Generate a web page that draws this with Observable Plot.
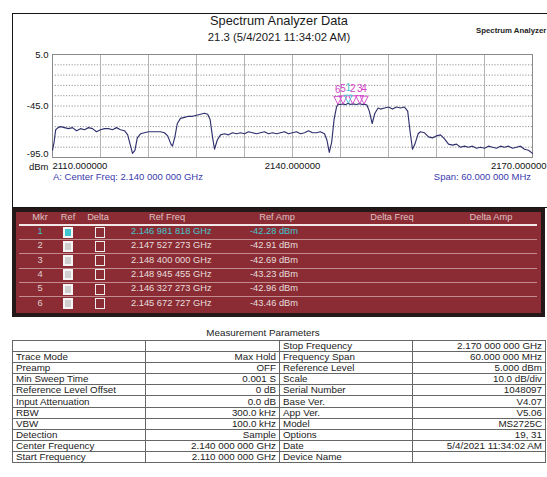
<!DOCTYPE html>
<html>
<head>
<meta charset="utf-8">
<script src="https://cdn.jsdelivr.net/npm/d3@7"></script>
<script src="https://cdn.jsdelivr.net/npm/@observablehq/plot@0.6"></script>
<style>
  body { margin: 0; background: #fff; font-family: "Liberation Sans", Arial, sans-serif; }
  #page { position: relative; width: 547px; height: 477px; overflow: hidden; background: #fff; }
  .t { position: absolute; white-space: nowrap; line-height: 1; }
  #panel { position: absolute; left: 12px; top: 13px; width: 560px; height: 195px; border: 1.5px solid #151515; box-sizing: border-box; }
  #chart { position: absolute; left: 0; top: 0; }
  #mkbox { position: absolute; left: 12px; top: 208px; width: 533px; height: 109px; background: #8b2c34; border: 4px solid #241818; box-sizing: border-box; }
  #params { position: absolute; left: 12px; top: 340px; border-collapse: collapse; font-size: 9.8px; color: #222; table-layout: fixed; }
  #params td { height: 10.1px; padding: 0 3px; border: 1px solid #666; line-height: 10px; white-space: nowrap; overflow: hidden; }
  #params td.v { text-align: right; }
</style>
</head>
<body>
<div id="page">
  <div id="panel"></div>
</div>
<script>
// Swept trace: frequency (MHz) and level (dBm)
const freqMHz = [
  2110.0, 2110.2, 2110.4, 2110.7, 2111.0, 2111.5, 2112.0, 2112.5, 2113.0, 2113.5,
  2114.0, 2114.5, 2115.0, 2115.5, 2116.0, 2116.5, 2117.0, 2117.5, 2118.0, 2118.5,
  2119.0, 2119.4, 2119.7, 2120.0, 2120.3, 2120.6, 2121.0, 2121.5, 2122.0, 2122.5,
  2123.0, 2123.5, 2124.0, 2124.4, 2124.8, 2125.0, 2125.3, 2125.6, 2126.0, 2126.5,
  2127.0, 2127.5, 2128.0, 2128.5, 2129.0, 2129.4, 2129.7, 2130.0, 2130.25, 2130.6,
  2131.0, 2131.5, 2132.0, 2132.5, 2133.0, 2133.5, 2134.0, 2134.5, 2135.0, 2135.5,
  2136.0, 2136.5, 2137.0, 2137.5, 2138.0, 2138.5, 2139.0, 2139.5, 2140.0, 2140.5,
  2141.0, 2141.5, 2142.0, 2142.5, 2143.0, 2143.5, 2144.0, 2144.3, 2144.6, 2144.9,
  2145.2, 2145.5, 2145.67, 2146.0, 2146.33, 2146.6, 2146.98, 2147.2, 2147.53, 2148.0,
  2148.4, 2148.7, 2148.95, 2149.3, 2149.6, 2149.96, 2150.3, 2150.7, 2151.0, 2151.5,
  2152.0, 2152.5, 2153.0, 2153.5, 2154.0, 2154.4, 2154.7, 2155.0, 2155.3, 2155.7,
  2156.0, 2156.5, 2157.0, 2157.5, 2158.0, 2158.5, 2159.0, 2159.5, 2160.0, 2160.5,
  2161.0, 2161.5, 2162.0, 2162.5, 2163.0, 2163.5, 2164.0, 2164.5, 2165.0, 2165.5,
  2166.0, 2166.5, 2167.0, 2167.5, 2168.0, 2168.5, 2169.0, 2169.5, 2170.0
];
const levelDbm = [
  -88, -80, -68, -66, -65, -66, -67, -66, -69, -67,
  -68, -66, -67, -70, -68, -67, -67, -68, -66, -68,
  -69, -73, -82, -91, -88, -76, -72, -71, -70, -70,
  -70, -70, -71, -74, -82, -84, -75, -62, -57, -56,
  -55, -55, -54, -53, -52, -53, -58, -75, -87, -78,
  -73, -72, -73, -71, -72, -71, -72, -70, -71, -72,
  -71, -70, -72, -71, -72, -71, -70, -72, -71, -70,
  -72, -71, -69, -71, -71, -70, -72, -78, -90, -80,
  -58, -46, -43.46, -43.5, -42.96, -43.8, -42.28, -43.5, -42.91, -43.5,
  -42.69, -43.6, -43.23, -44, -50, -62, -52, -47, -48, -47,
  -46, -48, -46, -47, -46, -50, -70, -87, -82, -72,
  -70, -71, -75, -76, -74, -73, -77, -82, -83, -82,
  -85, -84, -85, -84, -86, -85, -86, -84, -85, -86,
  -84, -85, -84, -86, -85, -84, -87, -88, -91
];

// Markers
const markerIds = [1, 2, 3, 4, 5, 6];
const markerFreqGHz = [2.146981818, 2.147527273, 2.148400000, 2.148945455, 2.146327273, 2.145672727];
const markerAmpDbm = [-42.28, -42.91, -42.69, -43.23, -42.96, -43.46];
const markerColumns = ["Mkr", "Ref", "Delta", "Ref Freq", "Ref Amp", "Delta Freq", "Delta Amp"];

// Axis ticks
const yTicks = [5, -45, -95];
const xTicks = [2110, 2140, 2170];

// Measurement parameters
const paramNamesLeft = ["", "Trace Mode", "Preamp", "Min Sweep Time", "Reference Level Offset", "Input Attenuation", "RBW", "VBW", "Detection", "Center Frequency", "Start Frequency"];
const paramValuesLeft = ["", "Max Hold", "OFF", "0.001 S", "0 dB", "0.0 dB", "300.0 kHz", "100.0 kHz", "Sample", "2.140 000 000 GHz", "2.110 000 000 GHz"];
const paramNamesRight = ["Stop Frequency", "Frequency Span", "Reference Level", "Scale", "Serial Number", "Base Ver.", "App Ver.", "Model", "Options", "Date", "Device Name"];
const paramValuesRight = ["2.170 000 000 GHz", "60.000 000 MHz", "5.000  dBm", "10.0  dB/div", "1048097", "V4.07", "V5.06", "MS2725C", "19, 31", "5/4/2021 11:34:02 AM", ""];

const page = document.getElementById("page");
const MAGENTA = "#d23fc8";
const CYAN = "#3fc6cf";

function txt(parent, s, x, y, anchor, css) {
  const d = document.createElement("div");
  d.className = "t";
  d.textContent = s;
  d.style.left = x + "px";
  d.style.top = y + "px";
  const tx = anchor === "middle" ? "-50%" : anchor === "end" ? "-100%" : "0";
  d.style.transform = `translate(${tx}, -50%)`;
  Object.assign(d.style, css || {});
  parent.appendChild(d);
  return d;
}

function ghz(g) {
  const [a, b] = g.toFixed(9).split(".");
  return `${a}.${b.slice(0, 3)} ${b.slice(3, 6)} ${b.slice(6, 9)} GHz`;
}

// Header texts
txt(page, "Spectrum Analyzer Data", 279, 21, "middle", {fontSize: "12.8px", color: "#1a1a1a"});
txt(page, "21.3 (5/4/2021 11:34:02 AM)", 279, 38, "middle", {fontSize: "11.3px", color: "#1a1a1a"});
txt(page, "Spectrum Analyzer", 476, 31, "start", {fontSize: "7.8px", fontWeight: "bold", color: "#222"});

// Trace chart
const trace = freqMHz.map((f, i) => ({f, v: levelDbm[i]}));
const markers = markerIds.map((id, i) => ({id, f: markerFreqGHz[i] * 1000, amp: markerAmpDbm[i]}));
const downTriangle = {
  draw(ctx) {
    ctx.moveTo(-4, -4);
    ctx.lineTo(4, -4);
    ctx.lineTo(0, 4);
    ctx.closePath();
  }
};
const axisCommon = {tickFormat: d => d.toFixed(6), tickSize: 0, tickPadding: 5, label: null, fill: "#111"};
const axisYCommon = {tickFormat: d => d.toFixed(1), tickSize: 0, tickPadding: 4, label: null, fill: "#111"};

const chart = Plot.plot({
  width: 547,
  height: 190,
  marginLeft: 52,
  marginRight: 15,
  marginTop: 54,
  marginBottom: 33,
  x: {domain: [2110, 2170]},
  y: {domain: [-95, 5]},
  style: {fontFamily: '"Liberation Sans", Arial, sans-serif', fontSize: "9.5px", background: "transparent", overflow: "visible"},
  marks: [
    Plot.ruleY(d3.range(-85, 5, 10), {stroke: "#7a7a7a", strokeDasharray: "1.2,1.6", strokeWidth: 0.8}),
    Plot.ruleX(d3.range(2116, 2170, 6), {stroke: "#b4b4b4", strokeWidth: 1}),
    Plot.frame({stroke: "#8a8a8a", strokeWidth: 1}),
    Plot.line(trace, {x: "f", y: "v", stroke: "#30306e", strokeWidth: 1.15}),
    Plot.dot(markers.filter(d => d.id !== 1), {x: "f", y: "amp", symbol: downTriangle, dy: -4, stroke: MAGENTA, fill: "none", strokeWidth: 0.9}),
    Plot.dot(markers.filter(d => d.id === 1), {x: "f", y: "amp", symbol: downTriangle, dy: -4, stroke: CYAN, fill: "none", strokeWidth: 0.9}),
    Plot.text(markers, {x: "f", y: "amp", text: d => String(d.id), dy: -15, fontSize: 10, fill: d => d.id === 1 ? CYAN : MAGENTA}),
    Plot.axisY({...axisYCommon, ticks: yTicks.slice(0, 2)}),
    Plot.axisY({...axisYCommon, ticks: yTicks.slice(2), dy: -4}),
    Plot.axisX({...axisCommon, ticks: [xTicks[0]], textAnchor: "start"}),
    Plot.axisX({...axisCommon, ticks: [xTicks[1]], textAnchor: "middle"}),
    Plot.axisX({...axisCommon, ticks: [xTicks[2]], textAnchor: "end", dx: 14})
  ]
});
chart.id = "chart";
page.appendChild(chart);

txt(page, "dBm", 29, 167, "start", {fontSize: "9.5px", color: "#111"});
txt(page, "A: Center Freq: 2.140 000 000 GHz", 53, 177, "start", {fontSize: "9.5px", color: "#3a3aae"});
txt(page, "Span: 60.000 000 MHz", 531, 177, "end", {fontSize: "9.5px", color: "#3a3aae"});

// Marker table
const mk = document.createElement("div");
mk.id = "mkbox";
page.appendChild(mk);
const headX = [40, 68, 98, 167, 277, 392, 491];
const headY = 217.5;
markerColumns.forEach((c, i) => txt(page, c, headX[i], headY, "middle", {fontSize: "9.3px", color: "#dcc2c2"}));
const ruleLine = (y, color, h) => {
  const d = document.createElement("div");
  Object.assign(d.style, {position: "absolute", left: "19px", width: "518px", top: y + "px", height: h + "px", background: color});
  page.appendChild(d);
};
ruleLine(224, "#f2e6e6", 1.6);
const rowY0 = 232, rowStep = 14.3;
markers.forEach((m, i) => {
  const y = rowY0 + i * rowStep;
  const col = i === 0 ? CYAN : "#e6dede";
  txt(page, String(m.id), 40, y, "middle", {fontSize: "9.3px", color: i === 0 ? CYAN : "#e0d0d0"});
  const ref = document.createElement("div");
  Object.assign(ref.style, {position: "absolute", left: "63px", top: (y - 5.5) + "px", width: "10px", height: "11px", boxSizing: "border-box",
    border: "2px solid #f4f4f4", background: i === 0 ? CYAN : "#cfcfcf"});
  page.appendChild(ref);
  const del = document.createElement("div");
  Object.assign(del.style, {position: "absolute", left: "95px", top: (y - 5.5) + "px", width: "10px", height: "11px", boxSizing: "border-box",
    border: "1.5px solid #ececec", background: "transparent"});
  page.appendChild(del);
  txt(page, ghz(markerFreqGHz[i]), 131, y, "start", {fontSize: "9.3px", color: col});
  txt(page, markerAmpDbm[i].toFixed(2) + " dBm", 250, y, "start", {fontSize: "9.3px", color: col});
  if (i < markers.length - 1) ruleLine(y + rowStep / 2, "rgba(240,220,220,0.55)", 1);
});

// Measurement parameters
txt(page, "Measurement Parameters", 263, 333, "middle", {fontSize: "9.8px", color: "#222"});
const tbl = document.createElement("table");
tbl.id = "params";
const colW = [133, 134, 133, 133];
const cg = document.createElement("colgroup");
colW.forEach(w => { const c = document.createElement("col"); c.style.width = w + "px"; cg.appendChild(c); });
tbl.appendChild(cg);
paramNamesLeft.forEach((n, i) => {
  const tr = document.createElement("tr");
  [[n, ""], [paramValuesLeft[i], "v"], [paramNamesRight[i], ""], [paramValuesRight[i], "v"]].forEach(([s, cls]) => {
    const td = document.createElement("td");
    td.textContent = s;
    if (cls) td.className = cls;
    tr.appendChild(td);
  });
  tbl.appendChild(tr);
});
page.appendChild(tbl);
</script>
</body>
</html>
